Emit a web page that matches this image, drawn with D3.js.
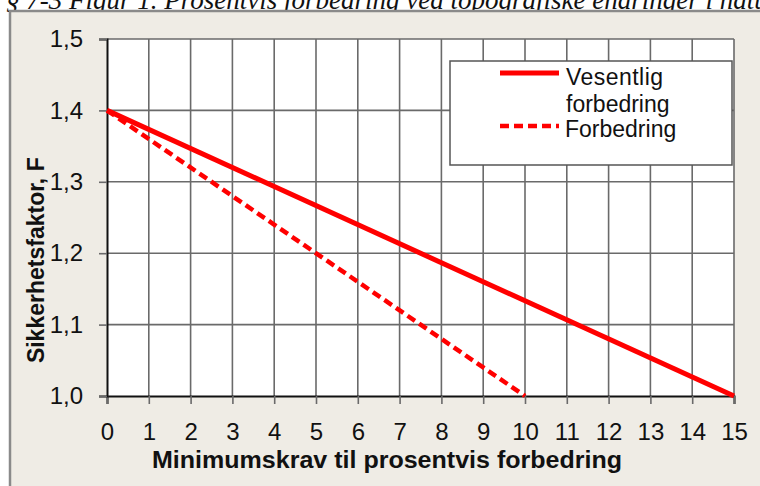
<!DOCTYPE html>
<html>
<head>
<meta charset="utf-8">
<script src="https://cdn.jsdelivr.net/npm/d3@7"></script>
<style>
  body { margin: 0; background: #fff; }
  svg { display: block; }
</style>
</head>
<body>
<div id="chart"></div>
<script>
// data
const xTicks = d3.range(0, 16);
const yTicks = [1.0, 1.1, 1.2, 1.3, 1.4, 1.5];
const seriesNames = ["Vesentlig forbedring", "Forbedring"];
const vesentligX = [0, 15];
const vesentligY = [1.4, 1.0];
const forbedringX = [0, 10];
const forbedringY = [1.4, 1.0];

const width = 760, height = 486;
const margin = { top: 39, right: 26, bottom: 90, left: 107 };
const font = "'Liberation Sans', Arial, sans-serif";

const svg = d3.select("#chart").append("svg")
    .attr("width", width)
    .attr("height", height);

// title (cut at the top like in the scan)
svg.append("text")
    .attr("x", 6).attr("y", 9)
    .attr("font-family", "'Liberation Serif', 'Times New Roman', serif")
    .attr("font-style", "italic")
    .attr("font-size", 27)
    .attr("fill", "#111")
    .text("§ 7-3 Figur 1. Prosentvis forbedring ved topografiske endringer i naturlige skråninger");

// panel
svg.append("rect")
    .attr("x", 10).attr("y", 11)
    .attr("width", width).attr("height", height)
    .attr("fill", "#efece5")
    .attr("stroke", "#8a8a8a")
    .attr("stroke-width", 2.5);

const x = d3.scaleLinear().domain([0, 15]).range([margin.left, width - margin.right]);
const y = d3.scaleLinear().domain([1.0, 1.5]).range([height - margin.bottom, margin.top]);

// plot area
svg.append("rect")
    .attr("x", x(0)).attr("y", y(1.5))
    .attr("width", x(15) - x(0)).attr("height", y(1.0) - y(1.5))
    .attr("fill", "#fff");

// grid
svg.append("g").selectAll("line")
    .data(xTicks.slice(1))
    .join("line")
    .attr("x1", d => x(d)).attr("x2", d => x(d))
    .attr("y1", y(1.5)).attr("y2", y(1.0))
    .attr("stroke", "#6a6a6a").attr("stroke-width", 1.6);

svg.append("g").selectAll("line")
    .data(yTicks.slice(1))
    .join("line")
    .attr("x1", x(0)).attr("x2", x(15))
    .attr("y1", d => y(d)).attr("y2", d => y(d))
    .attr("stroke", "#6a6a6a").attr("stroke-width", 1.6);

// axes
const xAxis = svg.append("g")
    .attr("transform", `translate(0,${y(1.0)})`)
    .call(d3.axisBottom(x).tickValues(xTicks).tickSize(8).tickPadding(19).tickFormat(d3.format("d")));
const yAxis = svg.append("g")
    .attr("transform", `translate(${x(0)},0)`)
    .call(d3.axisLeft(y).tickValues(yTicks).tickSize(8).tickPadding(16).tickFormat(d => d.toFixed(1).replace(".", ",")));

[xAxis, yAxis].forEach(a => {
    a.select(".domain").attr("stroke", "#111").attr("stroke-width", 2);
    a.selectAll(".tick line").attr("stroke", "#6a6a6a").attr("stroke-width", 1.6);
    a.selectAll(".tick text")
        .attr("font-family", font)
        .attr("font-size", 24)
        .attr("fill", "#111");
});

// lines
const line = d3.line().x(d => x(d[0])).y(d => y(d[1]));
svg.append("path")
    .datum(vesentligX.map((v, i) => [v, vesentligY[i]]))
    .attr("d", line)
    .attr("fill", "none")
    .attr("stroke", "#ff0000")
    .attr("stroke-width", 5);
svg.append("path")
    .datum(forbedringX.map((v, i) => [v, forbedringY[i]]))
    .attr("d", line)
    .attr("fill", "none")
    .attr("stroke", "#ff0000")
    .attr("stroke-width", 4.5)
    .attr("stroke-dasharray", "9,5");

// axis titles
svg.append("text")
    .attr("x", 152).attr("y", 468)
    .attr("textLength", 470).attr("lengthAdjust", "spacingAndGlyphs")
    .attr("font-family", font).attr("font-weight", "bold").attr("font-size", 23)
    .attr("fill", "#111")
    .text("Minimumskrav til prosentvis forbedring");

svg.append("text")
    .attr("transform", `translate(44,${y(1.2) + 7}) rotate(-90)`)
    .attr("text-anchor", "middle")
    .attr("font-family", font).attr("font-weight", "bold").attr("font-size", 23)
    .attr("fill", "#111")
    .text("Sikkerhetsfaktor, F");

// legend
const legend = svg.append("g");
legend.append("rect")
    .attr("x", 450).attr("y", 61)
    .attr("width", 282).attr("height", 104)
    .attr("fill", "#fff")
    .attr("stroke", "#555").attr("stroke-width", 1.5);
legend.append("line")
    .attr("x1", 500).attr("x2", 559).attr("y1", 73).attr("y2", 73)
    .attr("stroke", "#ff0000").attr("stroke-width", 5);
legend.append("line")
    .attr("x1", 500).attr("x2", 559).attr("y1", 126).attr("y2", 126)
    .attr("stroke", "#ff0000").attr("stroke-width", 4.5)
    .attr("stroke-dasharray", "9,5");
const lt = legend.append("text")
    .attr("font-family", font).attr("font-size", 23).attr("fill", "#111");
lt.append("tspan").attr("x", 566).attr("y", 85).attr("textLength", 97).text("Vesentlig");
lt.append("tspan").attr("x", 566).attr("y", 112).text("forbedring");
legend.append("text")
    .attr("x", 565).attr("y", 137)
    .attr("font-family", font).attr("font-size", 23).attr("fill", "#111")
    .text(seriesNames[1]);
</script>
</body>
</html>
